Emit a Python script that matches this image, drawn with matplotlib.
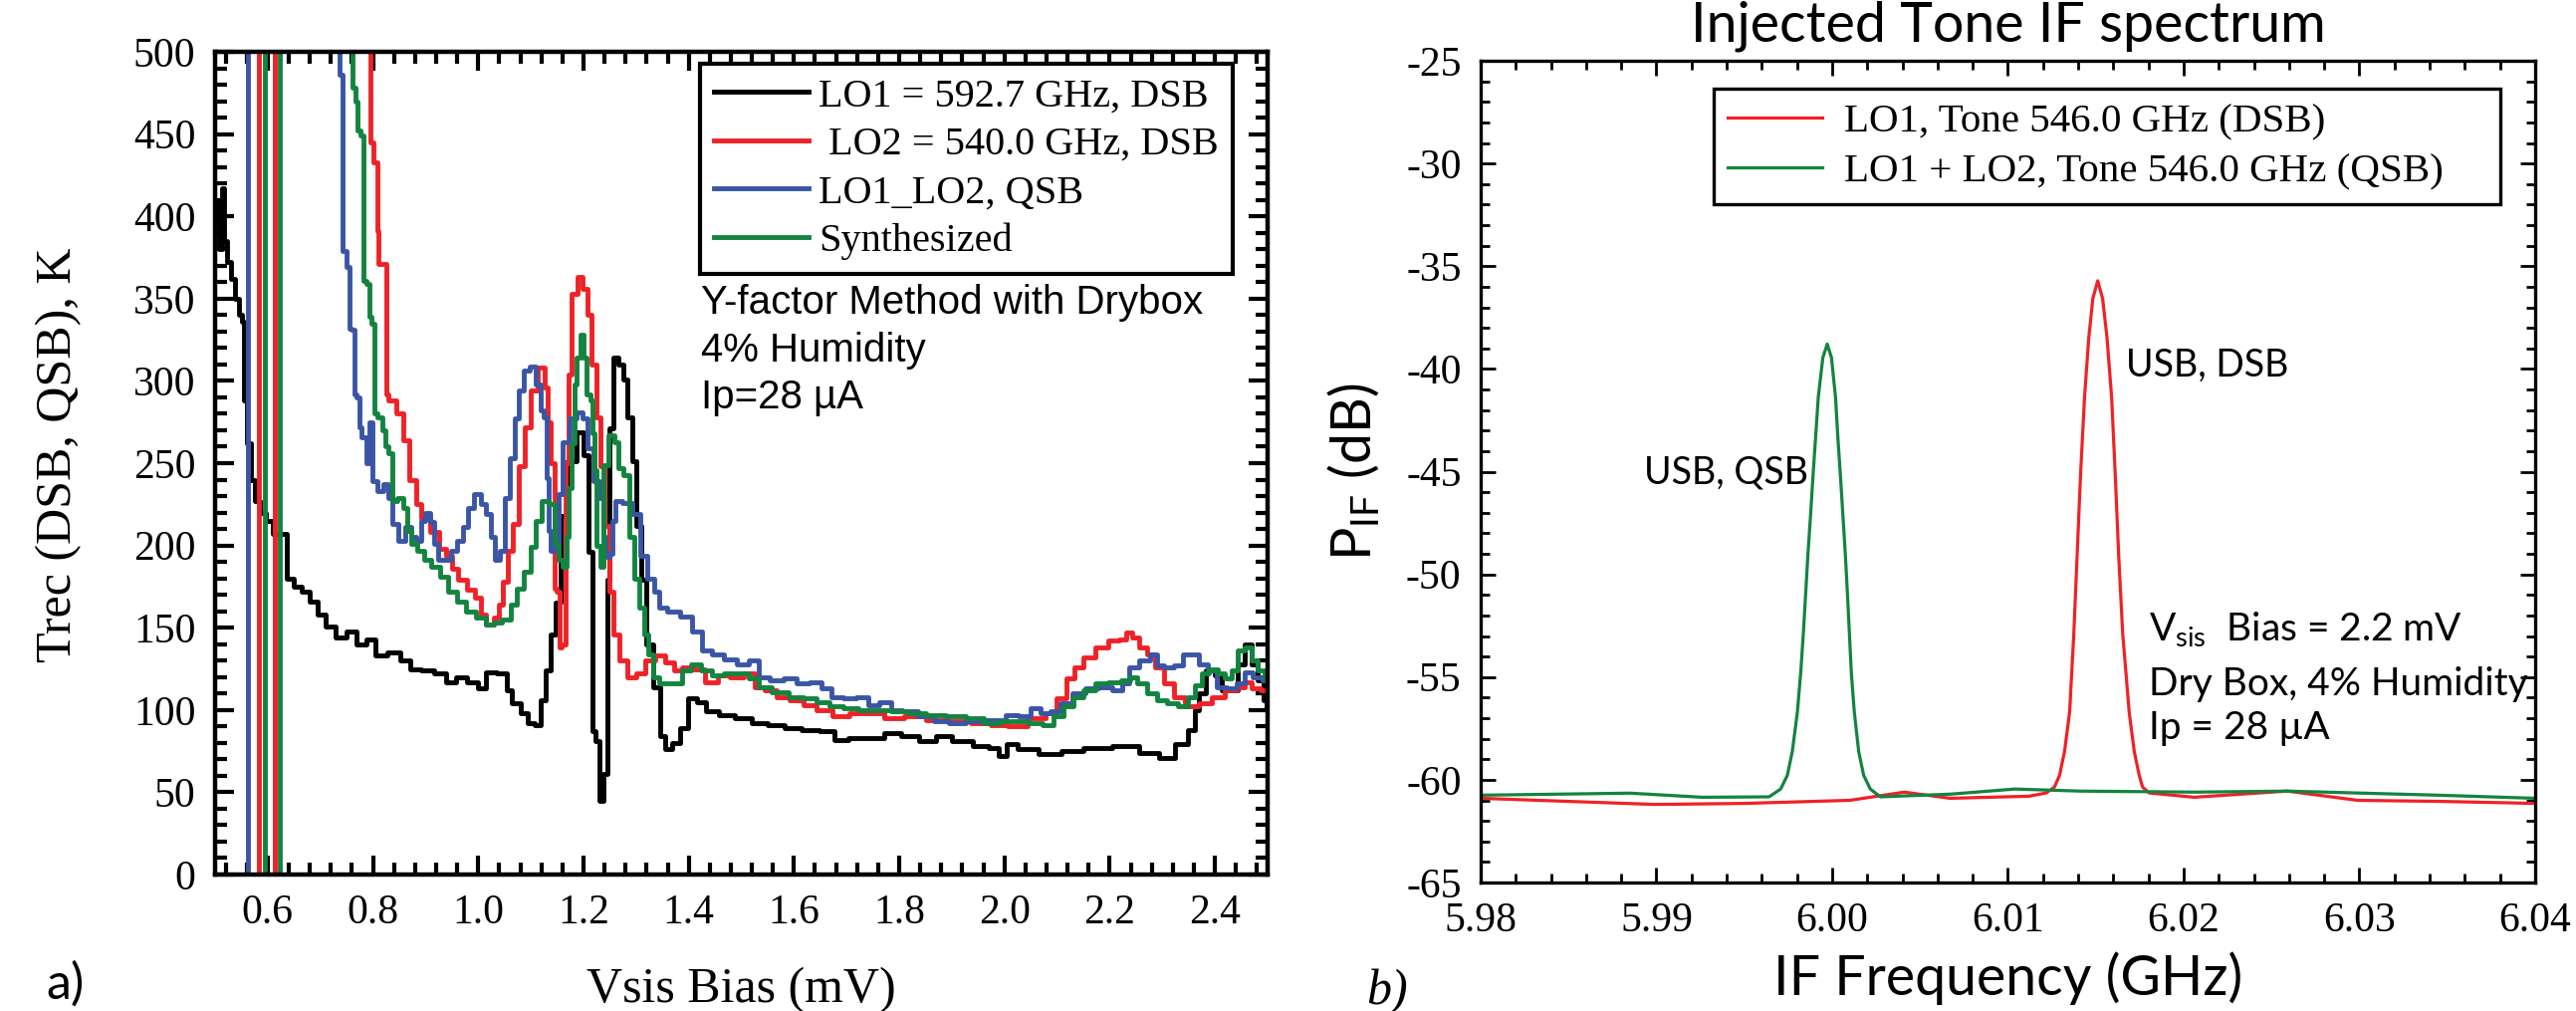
import numpy as np
import matplotlib
matplotlib.use('Agg')
import matplotlib.pyplot as plt
from matplotlib.ticker import MultipleLocator, FormatStrFormatter

plt.rcParams['axes.unicode_minus'] = False
plt.rcParams['mathtext.fontset'] = 'custom'
plt.rcParams['mathtext.rm'] = 'Lato'
plt.rcParams['mathtext.it'] = 'Lato:italic'

SERIF = 'Liberation Serif'
HELV = 'Liberation Sans'
MYRIAD = 'Lato'

# ---------------- panel a) : receiver noise temperature vs bias ----------------
lo1_v = [0.500, 0.505, 0.510, 0.515, 0.520, 0.525, 0.535, 0.542, 0.548, 0.554,
         0.557, 0.565, 0.573, 0.580, 0.590, 0.604, 0.617, 0.629, 0.645, 0.655,
         0.673, 0.686, 0.702, 0.718, 0.740, 0.759, 0.778, 0.796, 0.815, 0.841,
         0.863, 0.878, 0.904, 0.929, 0.948, 0.967, 0.992, 1.008, 1.023, 1.049,
         1.058, 1.071, 1.090, 1.099, 1.115, 1.124, 1.134, 1.143, 1.153, 1.160,
         1.181, 1.194, 1.206, 1.215, 1.219, 1.228, 1.233, 1.244, 1.248, 1.252,
         1.260, 1.272, 1.280, 1.288, 1.297, 1.305, 1.314, 1.326, 1.339, 1.352,
         1.360, 1.377, 1.390, 1.407, 1.424, 1.441, 1.472, 1.504, 1.535, 1.567,
         1.598, 1.630, 1.668, 1.687, 1.718, 1.756, 1.788, 1.819, 1.857, 1.882,
         1.920, 1.958, 1.983, 1.996, 2.011, 2.040, 2.090, 2.128, 2.172, 2.236,
         2.274, 2.312, 2.337, 2.359, 2.365, 2.374, 2.393, 2.406, 2.419, 2.438,
         2.450, 2.463, 2.475, 2.488, 2.497, 2.500]
lo1_T = [395, 410, 380, 417, 385, 372, 362, 350, 340, 336,
         288, 262, 240, 227, 220, 215, 207, 207, 180, 175,
         172, 166, 158, 151, 144, 148, 140, 143, 133, 135,
         130, 125, 124, 122, 117, 120, 117, 113, 123, 122,
         112, 104, 98, 92, 91, 106, 124, 146, 165, 218,
         251, 269, 255, 196, 87, 81, 45, 61, 179, 271,
         314, 310, 301, 278, 251, 212, 179, 140, 114, 84,
         76, 80, 89, 107, 105, 99, 97, 95, 92, 91,
         89, 88, 87, 82, 83, 83, 86, 84, 81, 84,
         81, 78, 77, 72, 79, 76, 73, 75, 77, 78,
         74, 71, 79, 88, 100, 110, 124, 121, 112, 112,
         128, 140, 128, 118, 106, 100]

lo2_v = [0.793, 0.796, 0.806, 0.809, 0.812, 0.825, 0.825, 0.834, 0.853, 0.863,
         0.875, 0.888, 0.897, 0.919, 0.932, 0.945, 0.954, 0.970, 0.986, 1.001,
         1.008, 1.023, 1.036, 1.042, 1.052, 1.061, 1.071, 1.083, 1.093, 1.105,
         1.121, 1.131, 1.134, 1.143, 1.146, 1.153, 1.155, 1.162, 1.170, 1.174,
         1.182, 1.194, 1.203, 1.211, 1.220, 1.228, 1.236, 1.245, 1.253, 1.262,
         1.275, 1.290, 1.309, 1.325, 1.346, 1.365, 1.378, 1.397, 1.419, 1.444,
         1.466, 1.491, 1.517, 1.535, 1.554, 1.580, 1.605, 1.630, 1.655, 1.693,
         1.718, 1.756, 1.788, 1.832, 1.870, 1.914, 1.958, 1.990, 2.021, 2.066,
         2.090, 2.109, 2.125, 2.141, 2.160, 2.185, 2.211, 2.226, 2.236, 2.249,
         2.261, 2.280, 2.293, 2.312, 2.331, 2.356, 2.381, 2.406, 2.432, 2.450,
         2.463, 2.475, 2.500]
lo2_T = [520, 445, 433, 391, 371, 371, 292, 288, 280, 264,
         240, 225, 217, 208, 198, 194, 186, 179, 173, 168,
         158, 152, 156, 164, 178, 197, 213, 248, 272, 294,
         308, 296, 275, 250, 174, 172, 138, 140, 250, 304,
         353, 363, 356, 340, 310, 278, 248, 212, 172, 146,
         130, 120, 122, 130, 133, 129, 124, 126, 125, 117,
         121, 120, 122, 114, 112, 108, 106, 103, 100, 96,
         98, 98, 95, 96, 94, 93, 92, 91, 90, 95,
         98, 107, 119, 126, 132, 138, 142, 143, 147, 144,
         138, 134, 126, 116, 108, 102, 104, 108, 112, 114,
         117, 113, 112]

qsb_v = [0.730, 0.743, 0.743, 0.755, 0.755, 0.765, 0.765, 0.774, 0.774, 0.784,
         0.790, 0.795, 0.803, 0.815, 0.825, 0.834, 0.841, 0.856, 0.866, 0.878,
         0.888, 0.894, 0.904, 0.913, 0.919, 0.929, 0.942, 0.954, 0.967, 0.976,
         0.986, 0.998, 1.011, 1.020, 1.027, 1.036, 1.046, 1.055, 1.064, 1.074,
         1.080, 1.093, 1.104, 1.115, 1.121, 1.128, 1.131, 1.137, 1.140, 1.150,
         1.156, 1.165, 1.181, 1.194, 1.203, 1.213, 1.225, 1.235, 1.241, 1.244,
         1.254, 1.257, 1.266, 1.282, 1.302, 1.315, 1.327, 1.343, 1.346, 1.371,
         1.397, 1.416, 1.435, 1.453, 1.479, 1.504, 1.523, 1.542, 1.567, 1.592,
         1.617, 1.642, 1.661, 1.680, 1.706, 1.731, 1.750, 1.775, 1.794, 1.819,
         1.851, 1.882, 1.907, 1.945, 1.970, 1.990, 2.015, 2.040, 2.059, 2.078,
         2.097, 2.116, 2.141, 2.166, 2.191, 2.217, 2.229, 2.245, 2.268, 2.284,
         2.296, 2.312, 2.334, 2.343, 2.362, 2.378, 2.394, 2.413, 2.432, 2.450,
         2.463, 2.482, 2.500]
qsb_T = [520, 486, 379, 369, 332, 331, 292, 290, 272, 266,
         250, 275, 239, 233, 237, 229, 213, 203, 211, 205,
         203, 215, 220, 214, 201, 191, 191, 197, 203, 211,
         223, 231, 225, 219, 205, 191, 197, 229, 253, 277,
         294, 306, 309, 298, 282, 278, 241, 209, 197, 201,
         231, 263, 277, 281, 277, 259, 239, 229, 205, 193,
         195, 215, 227, 226, 219, 194, 180, 172, 162, 160,
         157, 148, 136, 134, 131, 128, 130, 120, 118, 119,
         116, 117, 113, 108, 107, 108, 103, 105, 100, 99,
         96, 93, 92, 93, 94, 94, 97, 96, 101, 98,
         99, 104, 110, 113, 114, 112, 116, 126, 130, 134,
         127, 126, 127, 134, 134, 128, 124, 114, 113, 116,
         123, 120, 118]

syn_v = [0.762, 0.762, 0.771, 0.771, 0.781, 0.781, 0.793, 0.793, 0.803, 0.803,
         0.815, 0.822, 0.825, 0.834, 0.841, 0.853, 0.863, 0.869, 0.878, 0.891,
         0.904, 0.919, 0.935, 0.951, 0.967, 0.986, 1.005, 1.023, 1.036, 1.055,
         1.068, 1.080, 1.093, 1.105, 1.115, 1.128, 1.140, 1.150, 1.156, 1.165,
         1.169, 1.175, 1.181, 1.184, 1.191, 1.197, 1.203, 1.210, 1.216, 1.219,
         1.222, 1.228, 1.235, 1.241, 1.254, 1.263, 1.270, 1.280, 1.293, 1.302,
         1.311, 1.321, 1.327, 1.337, 1.352, 1.378, 1.397, 1.413, 1.435, 1.453,
         1.479, 1.504, 1.523, 1.542, 1.573, 1.605, 1.630, 1.655, 1.680, 1.706,
         1.737, 1.769, 1.800, 1.832, 1.870, 1.907, 1.945, 1.977, 2.008, 2.033,
         2.059, 2.084, 2.103, 2.122, 2.141, 2.160, 2.185, 2.211, 2.233, 2.245,
         2.261, 2.280, 2.299, 2.318, 2.340, 2.356, 2.368, 2.381, 2.397, 2.413,
         2.425, 2.438, 2.450, 2.463, 2.475, 2.488, 2.500]
syn_T = [520, 478, 470, 452, 449, 361, 359, 339, 335, 280,
         278, 270, 260, 256, 227, 229, 223, 209, 201, 197,
         191, 187, 181, 172, 166, 160, 156, 152, 153, 155,
         164, 174, 184, 199, 215, 227, 225, 201, 191, 187,
         205, 235, 262, 298, 314, 328, 314, 292, 288, 268,
         246, 200, 187, 249, 267, 263, 247, 243, 205, 180,
         162, 146, 134, 120, 116, 116, 124, 128, 124, 121,
         122, 122, 119, 114, 111, 108, 107, 105, 102, 101,
         100, 100, 99, 98, 97, 96, 95, 92, 93, 93,
         92, 91, 96, 102, 108, 112, 116, 117, 118, 120,
         116, 110, 106, 104, 102, 108, 115, 122, 125, 122,
         119, 124, 136, 138, 130, 124, 120]

# bias points where Trec diverges (vertical lines)
lo2_poles = [0.584, 0.614]
qsb_poles = [0.563]
syn_poles = [0.595, 0.623]

labels_a = ['LO1 = 592.7 GHz, DSB', ' LO2 = 540.0 GHz, DSB', 'LO1_LO2, QSB', 'Synthesized']

# ---------------- panel b) : injected tone IF spectrum ----------------
dsb_f = [5.980, 5.9899, 5.9950, 6.0010, 6.0041, 6.0067, 6.0112,
         6.01218, 6.01265, 6.01294, 6.01322, 6.01351, 6.01375, 6.01394, 6.01413,
         6.01436, 6.01460, 6.01483, 6.01511, 6.01539, 6.01564, 6.01590, 6.01611,
         6.01630, 6.01653, 6.01690, 6.01719, 6.01747, 6.01766, 6.01803,
         6.0206, 6.0259, 6.0299, 6.0345, 6.0400]
dsb_P = [-60.9, -61.2, -61.15, -61.0, -60.6, -60.9, -60.8,
         -60.64, -60.35, -59.78, -58.63, -56.71, -52.87, -49.04, -45.20,
         -41.37, -38.50, -36.58, -35.71, -36.58, -38.50, -41.37, -45.20,
         -49.04, -52.87, -56.71, -58.63, -59.78, -60.35, -60.64,
         -60.85, -60.55, -61.0, -61.05, -61.15]

qsb_f = [5.980, 5.9885, 5.9926,
         5.99641, 5.99707, 5.99745, 5.99773, 5.99802, 5.99821, 5.99836, 5.99849,
         5.99862, 5.99877, 5.99891, 5.99906, 5.99921, 5.99947, 5.99972, 5.99996,
         6.00019, 6.00032, 6.00047, 6.00061, 6.00075, 6.00087, 6.00098, 6.00109,
         6.00126, 6.00151, 6.00179, 6.00217, 6.00274,
         6.0067, 6.0104, 6.0141, 6.0206, 6.0259, 6.0345, 6.0400]
qsb_P = [-60.75, -60.65, -60.85,
         -60.83, -60.45, -59.78, -58.63, -56.71, -54.79, -52.87, -50.96,
         -49.04, -47.12, -45.20, -43.29, -41.37, -39.45, -38.79, -39.45,
         -41.37, -43.29, -45.20, -47.12, -49.04, -50.96, -52.87, -54.79,
         -56.71, -58.63, -59.78, -60.45, -60.83,
         -60.7, -60.45, -60.55, -60.6, -60.55, -60.75, -60.9]

labels_b = ['LO1, Tone 546.0 GHz (DSB)', 'LO1 + LO2, Tone 546.0 GHz (QSB)']

BLACK = '#000000'
RED = '#ee2227'
BLUE = '#3b55a5'
GREEN = '#13843f'

W, H = 2587, 1015
fig = plt.figure(figsize=(W / 100, H / 100), dpi=100)


def px_box(l, t, r, b):
    return [l / W, 1 - b / H, (r - l) / W, (b - t) / H]


def style_axes(ax, spine_w, major_len, minor_len, tick_w, size, pad):
    for s in ax.spines.values():
        s.set_linewidth(spine_w)
    ax.tick_params(which='both', direction='in', top=True, right=True,
                   width=tick_w, labelsize=size, pad=pad)
    ax.tick_params(which='major', length=major_len)
    ax.tick_params(which='minor', length=minor_len)
    for lab in ax.get_xticklabels() + ax.get_yticklabels():
        lab.set_family(SERIF)


# ---- panel a
ax1 = fig.add_axes(px_box(216, 52, 1273, 878))
lw = 3.5
ax1.plot(lo1_v, lo1_T, color=BLACK, lw=lw, drawstyle='steps-mid', label=labels_a[0])
ax1.plot(lo2_v, lo2_T, color=RED, lw=lw, drawstyle='steps-mid', label=labels_a[1])
ax1.plot(qsb_v, qsb_T, color=BLUE, lw=lw, drawstyle='steps-mid', label=labels_a[2])
ax1.plot(syn_v, syn_T, color=GREEN, lw=lw, drawstyle='steps-mid', label=labels_a[3])
for p in qsb_poles:
    ax1.axvline(p, color=BLUE, lw=lw)
for p in lo2_poles:
    ax1.axvline(p, color=RED, lw=lw)
for p in syn_poles:
    ax1.axvline(p, color=GREEN, lw=lw)

ax1.set_xlim(0.5, 2.5)
ax1.set_ylim(0, 500)
ax1.xaxis.set_major_locator(MultipleLocator(0.2))
ax1.xaxis.set_minor_locator(MultipleLocator(0.04))
ax1.xaxis.set_major_formatter(FormatStrFormatter('%.1f'))
ax1.yaxis.set_major_locator(MultipleLocator(50))
ax1.yaxis.set_minor_locator(MultipleLocator(10))
style_axes(ax1, 3.2, 14, 8.5, 3.0, 30, 14)

ax1.set_xlabel('Vsis Bias (mV)', family=SERIF, fontsize=36, va='baseline')
ax1.xaxis.set_label_coords(0.5, (878 - 1006) / 826)
ax1.set_ylabel('Trec (DSB, QSB), K', family=SERIF, fontsize=36)
ax1.yaxis.set_label_coords((82 - 216) / 1057, 0.51)

leg1 = ax1.legend(loc='upper left', bbox_to_anchor=((703 - 216) / 1057, (878 - 64) / 826),
                  borderaxespad=0, prop={'family': SERIF, 'size': 29},
                  handlelength=2.35, handletextpad=0.25, labelspacing=0.28,
                  borderpad=0.35, fancybox=False, framealpha=1, edgecolor='black')
leg1.get_frame().set_linewidth(3.0)

for txt, yv in zip(['Y-factor Method with Drybox', '4% Humidity', 'Ip=28 \u00b5A'],
                   [341, 312, 283]):
    ax1.text(1.423, yv, txt, family=HELV, fontsize=29, va='baseline', ha='left')

fig.text(46 / W, 1 - 1003 / H, 'a)', family=MYRIAD, fontsize=36, va='baseline')

# ---- panel b
ax2 = fig.add_axes(px_box(1487, 61, 2546, 886))
ax2.plot(dsb_f, dsb_P, color=RED, lw=2.3, label=labels_b[0])
ax2.plot(qsb_f, qsb_P, color=GREEN, lw=2.3, label=labels_b[1])
ax2.set_xlim(5.98, 6.04)
ax2.set_ylim(-65, -25)
ax2.xaxis.set_major_locator(MultipleLocator(0.01))
ax2.xaxis.set_minor_locator(MultipleLocator(0.002))
ax2.xaxis.set_major_formatter(FormatStrFormatter('%.2f'))
ax2.yaxis.set_major_locator(MultipleLocator(5))
ax2.yaxis.set_minor_locator(MultipleLocator(1))
style_axes(ax2, 2.4, 11, 6.5, 2.0, 30, 14)

ax2.set_xlabel('IF Frequency (GHz)', family=MYRIAD, fontsize=40, va='baseline')
ax2.xaxis.set_label_coords(0.5, (886 - 999) / 825)
ax2.set_ylabel(r'P$_{\mathrm{IF}}$ (dB)', family=MYRIAD, fontsize=40)
ax2.yaxis.set_label_coords((1388 - 1487) / 1059, 0.5)
fig.text((1487 + 2546) / 2 / W, 1 - 42 / H, 'Injected Tone IF spectrum',
         family=MYRIAD, fontsize=40, ha='center', va='baseline')

leg2 = ax2.legend(loc='upper left',
                  bbox_to_anchor=((1721 - 1487) / 1059, (886 - 89) / 825,
                                  (2511 - 1721) / 1059, 0.0),
                  mode='expand', borderaxespad=0, prop={'family': SERIF, 'size': 29.5},
                  handlelength=2.3, handletextpad=0.55, labelspacing=0.3,
                  borderpad=0.35, fancybox=False, framealpha=1, edgecolor='black')
leg2.get_frame().set_linewidth(2.4)

ax2.text(6.0167, -40.37, 'USB, DSB', family=MYRIAD, fontsize=27, va='baseline')
ax2.text(5.9893, -45.56, 'USB, QSB', family=MYRIAD, fontsize=27, va='baseline')
ax2.text(6.0180, -53.2, r'V$_{\mathrm{sis}}$  Bias = 2.2 mV', family=MYRIAD, fontsize=28, va='baseline')
ax2.text(6.0180, -55.9, 'Dry Box, 4% Humidity', family=MYRIAD, fontsize=28, va='baseline')
ax2.text(6.0180, -58.0, 'Ip = 28 \u00b5A', family=MYRIAD, fontsize=28, va='baseline')

fig.text(1372 / W, 1 - 1008 / H, 'b)', family=SERIF, style='italic', fontsize=36, va='baseline')

fig.savefig('out.png', dpi=100)
